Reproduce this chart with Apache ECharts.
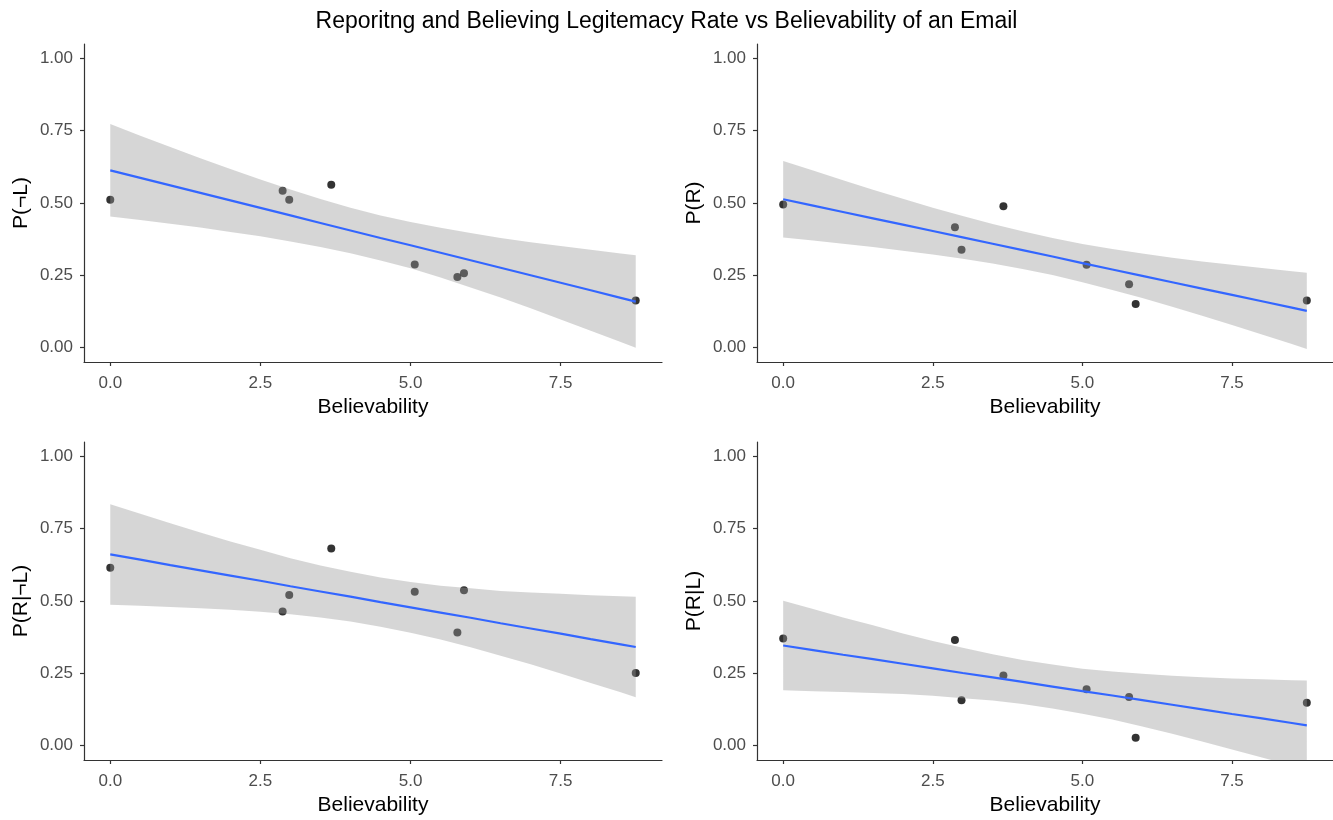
<!DOCTYPE html>
<html>
<head>
<meta charset="utf-8">
<script src="https://cdn.jsdelivr.net/npm/echarts@6/dist/echarts.min.js"></script>
<style>
  html, body { margin: 0; padding: 0; background: #fff; }
  #chart { width: 1333px; height: 820px; }
</style>
</head>
<body>
<div id="chart"></div>
<script>
// believability of each email (shared by all four panels)
const believability = [0, 2.87, 2.98, 3.68, 5.07, 5.78, 5.89, 8.75]

const pNotL = [0.511, 0.542, 0.511, 0.563, 0.287, 0.244, 0.257, 0.163]
const pR = [0.495, 0.416, 0.338, 0.489, 0.286, 0.219, 0.151, 0.163]
const pRgivenNotL = [0.615, 0.464, 0.521, 0.682, 0.532, 0.391, 0.537, 0.251]
const pRgivenL = [0.370, 0.365, 0.157, 0.242, 0.195, 0.168, 0.027, 0.148]

// lm fit line + confidence band
const fitX = [0, 0.5, 1, 1.5, 2, 2.5, 3, 3.5, 4, 4.5, 5, 5.5, 6, 6.5, 7, 7.5, 8, 8.5, 8.75]

const fitNotL = [0.613, 0.587, 0.561, 0.535, 0.509, 0.483, 0.457, 0.431, 0.405, 0.379, 0.354, 0.328, 0.302, 0.276, 0.250, 0.224, 0.198, 0.172, 0.159]
const hiNotL = [0.773, 0.733, 0.694, 0.655, 0.618, 0.581, 0.547, 0.514, 0.484, 0.457, 0.434, 0.414, 0.396, 0.379, 0.364, 0.351, 0.338, 0.325, 0.319]
const loNotL = [0.453, 0.441, 0.428, 0.415, 0.400, 0.385, 0.367, 0.348, 0.326, 0.301, 0.274, 0.242, 0.208, 0.173, 0.136, 0.097, 0.058, 0.019, -0.001]

const fitR = [0.513, 0.491, 0.469, 0.447, 0.425, 0.403, 0.381, 0.359, 0.337, 0.315, 0.292, 0.270, 0.248, 0.226, 0.204, 0.182, 0.160, 0.138, 0.127]
const hiR = [0.645, 0.612, 0.579, 0.546, 0.515, 0.484, 0.455, 0.427, 0.402, 0.379, 0.358, 0.341, 0.325, 0.311, 0.298, 0.286, 0.275, 0.264, 0.259]
const loR = [0.381, 0.370, 0.359, 0.348, 0.335, 0.322, 0.307, 0.291, 0.272, 0.251, 0.226, 0.199, 0.171, 0.141, 0.110, 0.078, 0.045, 0.012, -0.005]

const fitRgivenNotL = [0.661, 0.643, 0.624, 0.606, 0.588, 0.570, 0.551, 0.533, 0.515, 0.496, 0.478, 0.460, 0.442, 0.423, 0.405, 0.387, 0.368, 0.350, 0.341]
const hiRgivenNotL = [0.835, 0.802, 0.769, 0.737, 0.706, 0.677, 0.648, 0.623, 0.601, 0.581, 0.566, 0.553, 0.544, 0.535, 0.529, 0.525, 0.520, 0.516, 0.515]
const loRgivenNotL = [0.487, 0.484, 0.479, 0.475, 0.470, 0.463, 0.454, 0.443, 0.429, 0.411, 0.390, 0.367, 0.340, 0.311, 0.281, 0.249, 0.216, 0.184, 0.167]

const fitRgivenL = [0.346, 0.330, 0.314, 0.299, 0.283, 0.267, 0.251, 0.236, 0.220, 0.204, 0.188, 0.173, 0.157, 0.141, 0.125, 0.109, 0.094, 0.078, 0.070]
const hiRgivenL = [0.501, 0.472, 0.443, 0.416, 0.388, 0.362, 0.338, 0.316, 0.296, 0.280, 0.266, 0.256, 0.248, 0.241, 0.236, 0.232, 0.229, 0.226, 0.225]
const loRgivenL = [0.191, 0.188, 0.185, 0.182, 0.178, 0.172, 0.164, 0.156, 0.144, 0.128, 0.110, 0.090, 0.066, 0.041, 0.014, -0.014, -0.041, -0.070, -0.085]

// tick labels
const xTicks = [0, 2.5, 5, 7.5]
const xTickLabels = ['0.0', '2.5', '5.0', '7.5']
const yTicks = [0, 0.25, 0.5, 0.75, 1]
const yTickLabels = ['0.00', '0.25', '0.50', '0.75', '1.00']

const panels = [
  { name: 'P(¬L)', pts: pNotL, fit: fitNotL, hi: hiNotL, lo: loNotL },
  { name: 'P(R)', pts: pR, fit: fitR, hi: hiR, lo: loR },
  { name: 'P(R|¬L)', pts: pRgivenNotL, fit: fitRgivenNotL, hi: hiRgivenNotL, lo: loRgivenNotL },
  { name: 'P(R|L)', pts: pRgivenL, fit: fitRgivenL, hi: hiRgivenL, lo: loRgivenL },
]

const font = 'Liberation Sans, Arial, sans-serif'
const axisColor = '#333333'
const labelColor = '#4d4d4d'

const grids = [
  { left: 84, top: 44, width: 578, height: 318 },
  { left: 757, top: 44, width: 576, height: 318 },
  { left: 84, top: 442, width: 578, height: 318 },
  { left: 757, top: 442, width: 576, height: 318 },
]

const xAxes = panels.map((p, i) => ({
  gridIndex: i,
  type: 'value',
  min: -0.4375,
  max: 9.1875,
  name: 'Believability',
  nameLocation: 'middle',
  nameGap: 35,
  nameTextStyle: { fontFamily: font, fontSize: 21, color: '#000' },
  axisLine: { show: true, onZero: false, lineStyle: { color: axisColor, width: 1.2 } },
  axisTick: { show: true, length: 4, customValues: xTicks, lineStyle: { color: axisColor, width: 1.2 } },
  axisLabel: {
    customValues: xTicks,
    margin: 13,
    fontFamily: font,
    fontSize: 17,
    color: labelColor,
    formatter: (v) => xTickLabels[xTicks.indexOf(v)] ?? '',
  },
  splitLine: { show: false },
}))

const yAxes = panels.map((p, i) => ({
  gridIndex: i,
  type: 'value',
  min: -0.05,
  max: 1.05,
  name: p.name,
  nameLocation: 'middle',
  nameGap: 52,
  nameTextStyle: { fontFamily: font, fontSize: 21, color: '#000' },
  axisLine: { show: true, onZero: false, lineStyle: { color: axisColor, width: 1.2 } },
  axisTick: { show: true, length: 4, customValues: yTicks, lineStyle: { color: axisColor, width: 1.2 } },
  axisLabel: {
    customValues: yTicks,
    margin: 11,
    fontFamily: font,
    fontSize: 17,
    color: labelColor,
    formatter: (v) => yTickLabels[yTicks.indexOf(v)] ?? '',
  },
  splitLine: { show: false },
}))

const series = []
panels.forEach((p, i) => {
  series.push({
    type: 'scatter',
    xAxisIndex: i,
    yAxisIndex: i,
    z: 2,
    symbolSize: 8,
    itemStyle: { color: '#000' },
    data: believability.map((x, k) => [x, p.pts[k]]),
  })
  // grey confidence band drawn over the points, like geom_smooth
  series.push({
    type: 'custom',
    xAxisIndex: i,
    yAxisIndex: i,
    z: 3,
    silent: true,
    data: [[fitX[0], p.hi[0]]],
    renderItem: (params, api) => {
      const pts = []
      for (let k = 0; k < fitX.length; k++) pts.push(api.coord([fitX[k], p.hi[k]]))
      for (let k = fitX.length - 1; k >= 0; k--) pts.push(api.coord([fitX[k], p.lo[k]]))
      const cs = params.coordSys
      return {
        type: 'group',
        clipPath: { type: 'rect', shape: { x: cs.x, y: cs.y, width: cs.width, height: cs.height } },
        children: [{
          type: 'polygon',
          shape: { points: pts },
          style: { fill: 'rgba(153,153,153,0.4)' },
        }],
      }
    },
  })
  series.push({
    type: 'line',
    xAxisIndex: i,
    yAxisIndex: i,
    z: 4,
    showSymbol: false,
    lineStyle: { color: '#3366FF', width: 2.2 },
    data: fitX.map((x, k) => [x, p.fit[k]]),
  })
})

const chart = echarts.init(document.getElementById('chart'), null, { renderer: 'canvas' })
chart.setOption({
  animation: false,
  backgroundColor: '#fff',
  title: {
    text: 'Reporitng and Believing Legitemacy Rate vs Believability of an Email',
    left: 'center',
    top: 5,
    textStyle: { fontFamily: font, fontSize: 23, fontWeight: 'normal', color: '#000' },
  },
  grid: grids,
  xAxis: xAxes,
  yAxis: yAxes,
  series: series,
})
</script>
</body>
</html>
